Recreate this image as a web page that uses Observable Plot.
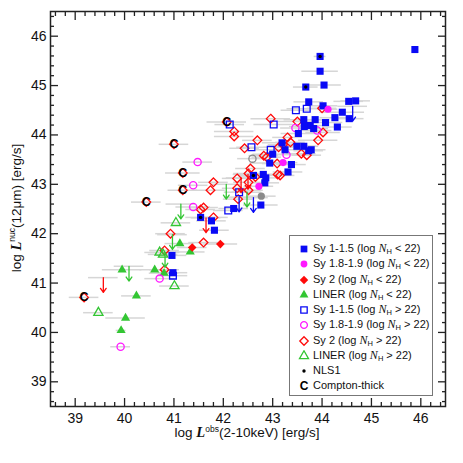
<!DOCTYPE html>
<html><head><meta charset="utf-8">
<script src="https://cdn.jsdelivr.net/npm/d3@7"></script>
<script src="https://cdn.jsdelivr.net/npm/@observablehq/plot@0.6"></script>
<style>
body{margin:0;background:#fff;font-family:"Liberation Sans",Arial,sans-serif;}
#wrap{position:relative;width:463px;height:463px;}
#legend{position:absolute;left:289px;top:235px;width:144px;height:161px;border:1px solid #777;background:#fff;box-sizing:border-box;font-size:11px;color:#111;}
.row{position:absolute;left:0;height:15px;line-height:15px;white-space:nowrap;}
.row svg{position:absolute;left:8px;top:2px;}
.row span.t{position:absolute;left:23px;top:0;}
.n{font-family:"Liberation Serif","Times New Roman",serif;font-style:italic;font-size:12px;}
sub{font-size:7.5px;vertical-align:-2px;}
</style></head>
<body><div id="wrap"></div>
<script>
// [log Lx, log L12, x error]
const sy1Low = [
 [45.88,45.73,0],[43.96,45.59,0.12],[43.96,45.29,0.37],[44.04,45.01,0.35],[43.67,44.97,0.25],
 [43.73,44.67,0.3],[44.02,44.59,0.3],[44.54,44.68,0.3],[44.68,44.69,0.3],[44.41,44.46,0.45],
 [44.26,44.35,0.3],[44.31,44.16,0.3],[44.07,44.25,0.35],[44.55,44.33,0.3],[43.63,44.31,0.4],
 [43.86,44.31,0.3],[43.76,44.19,0.3],[43.64,44.17,0.3],[43.52,44.03,0.35],[43.83,44.13,0.3],
 [43.19,43.84,0.4],[43.49,43.77,0.4],[43.63,43.77,0.3],[43.73,43.68,0.3],[43.78,43.70,0.3],
 [43.25,43.70,0.3],[43.00,43.61,0.4],[42.94,43.43,0.4],[43.38,43.40,0.3],[43.31,43.25,0.3],
 [42.81,43.20,0.3],[42.86,43.13,0.3],[42.84,43.03,0.3],[42.61,43.18,0.3],[42.76,42.58,0.35],
 [42.21,42.51,0.3],[41.76,42.26,0.3],[41.82,42.07,0.3],[41.54,42.33,0.3],[40.96,41.56,0.3],
 [40.98,41.21,0.3]
];
const sy1High = [
 [43.47,44.50,0.3],[43.69,44.53,0.4],[43.02,44.21,0.4],[42.13,44.21,0.3],[42.57,43.75,0.3],
 [42.96,43.70,0.3],[42.32,42.84,0.3],[42.10,42.47,0.3],[40.98,41.15,0.3]
];
const sy18Low = [[44.12,44.52,0.2],[43.21,43.44,0.3],[42.72,42.96,0.3]];
const sy18High = [
 [41.48,43.45,0.3],[41.39,42.98,0.3],[41.39,42.54,0.35],[40.71,41.09,0.3],[39.92,39.71,0.2],
 [43.46,44.14,0.3],[43.28,43.60,0.3],[43.90,44.09,0.3]
];
const sy2Low = [[41.37,41.72,0.3],[41.94,41.79,0.35]];
const sy2High = [
 [39.18,40.71,0.3],[40.44,42.64,0.3],[41.00,43.81,0.3],[41.18,43.23,0.35],[41.18,42.88,0.3],
 [42.07,44.26,0.4],[42.96,44.33,0.4],[42.22,44.07,0.4],[42.22,43.97,0.4],[42.43,43.73,0.3],
 [42.69,43.89,0.3],[43.50,44.27,0.4],[44.00,44.54,0.3],[44.02,44.05,0.35],[43.92,43.89,0.4],
 [43.30,43.95,0.3],[43.36,43.85,0.3],[43.12,43.75,0.3],[43.58,43.62,0.3],[43.69,43.59,0.3],
 [43.21,43.80,0.3],[43.09,43.42,0.3],[43.10,43.20,0.3],[42.88,43.55,0.3],[42.82,43.58,0.3],
 [42.55,43.32,0.3],[42.51,43.22,0.3],[42.28,43.12,0.3],[41.80,43.04,0.3],[41.74,42.88,0.3],
 [42.28,42.92,0.3],[42.51,42.88,0.3],[42.30,42.70,0.3],[41.60,42.53,0.3],[41.54,42.49,0.3],
 [41.80,42.33,0.3],[41.60,41.82,0.3],[40.93,42.00,0.3],[40.81,41.66,0.3],[40.81,41.27,0.3],
 [42.65,43.15,0.3],[42.51,43.04,0.3],[43.15,43.18,0.3]
];
const linerLow = [
 [41.12,41.80,0.3],[41.33,41.63,0.3],[40.61,41.27,0.3],[39.95,41.27,0.4],[40.24,40.74,0.3],
 [40.02,40.29,0.4],[39.93,40.04,0.1],[40.80,41.20,0.3]
];
const linerHigh = [[41.04,42.22,0.3],[40.71,41.62,0.3],[40.78,41.58,0.3],[41.01,40.94,0.3],[39.47,40.40,0.3]];
const otherOpen = [[42.59,43.52,0.3]];
const otherFilled = [[42.77,42.76,0.3]];
// upper limits: [log Lx, limit on log L12, x error]
const sy1Lim = [[44.62,44.58,0.3],[42.32,42.74,0.3],[42.61,42.73,0.3]];
const sy2Lim = [[39.57,41.11,0.3],[41.65,42.32,0.3],[42.36,43.13,0.3],[42.50,43.20,0.3]];
const linerLim = [[40.09,41.34,0.3],[40.97,41.98,0.3],[40.82,41.62,0.3],[41.14,42.60,0.3],[42.06,43.00,0.3],[42.48,42.84,0.3]];
const nls1 = [[43.96,45.59],[43.67,44.97],[42.61,43.18],[41.54,42.33]];
const comptonThick = [[39.18,40.71],[40.44,42.64],[41.00,43.81],[41.18,43.23],[41.18,42.88],[42.07,44.26]];
const xTicks = [39,40,41,42,43,44,45,46];
const yTicks = [39,40,41,42,43,44,45,46];
const minorTicks = d3.range(386, 466, 2).filter(v => v % 10 !== 0).map(v => v / 10);

const BLUE = "#0a0af5", MAG = "#ff1aff", RED = "#ff0a0a", GREEN = "#33c633", GRAY = "#8a8a8a";
const limLen = 0.3;

const allErr = [sy1Low, sy1High, sy18Low, sy18High, sy2Low, sy2High, linerLow, linerHigh, otherOpen, otherFilled, sy1Lim, sy2Lim, linerLim].flat().filter(d => d[2] > 0);

const X = d => d[0], Y = d => d[1];
function dots(data, symbol, r, fill, stroke, sw = 1.3) {
  return Plot.dot(data, {x: X, y: Y, symbol, r, fill, stroke, strokeWidth: sw});
}
function arrows(data, color) {
  return Plot.arrow(data, {x1: X, x2: X, y1: Y, y2: d => d[1] - limLen, stroke: color, strokeWidth: 1.3, headLength: 6, headAngle: 70});
}
const tickStyle = {stroke: "#222", strokeWidth: 1.3, tickFormat: () => ""};

const plot = Plot.plot({
  width: 463, height: 463,
  marginLeft: 50, marginRight: 18, marginTop: 11, marginBottom: 57,
  x: {domain: [38.5, 46.5], axis: null},
  y: {domain: [38.5, 46.5], axis: null},
  style: {fontFamily: "'Liberation Sans', Arial, sans-serif", background: "white"},
  marks: [
    Plot.ruleY(allErr, {y: Y, x1: d => d[0] - d[2], x2: d => d[0] + d[2], stroke: "#d6d6d6", strokeWidth: 1.5}),
    dots(sy2High, "diamond2", 3.9, "none", RED),
    dots(linerHigh, "triangle2", 4.4, "none", GREEN),
    dots(linerLow, "triangle", 3.4, GREEN, "none"),
    dots(sy18High, "circle", 3.6, "none", MAG),
    dots(sy1High, "square", 3.8, "none", BLUE),
    dots(sy1Low, "square", 4.0, BLUE, "none"),
    dots(sy18Low, "circle", 3.6, MAG, "none"),
    dots(sy2Low, "diamond2", 3.9, RED, "none"),
    dots(otherOpen, "circle", 3.6, "none", GRAY),
    dots(otherFilled, "circle", 3.6, GRAY, "none"),
    arrows(sy2Lim, RED),
    arrows(linerLim, GREEN),
    arrows(sy1Lim, BLUE),
    Plot.text(comptonThick, {x: X, y: Y, text: () => "C", fontWeight: "bold", fontSize: 12.5, fill: "black"}),
    Plot.dot(nls1, {x: X, y: Y, r: 1.7, fill: "black"}),
    Plot.frame({stroke: "#222", strokeWidth: 1.5}),
    Plot.axisX(xTicks, {anchor: "bottom", tickSize: 8, dy: -8, ...tickStyle}),
    Plot.axisX(xTicks, {anchor: "top", tickSize: 8, dy: 8, ...tickStyle}),
    Plot.axisX(minorTicks, {anchor: "bottom", tickSize: 4, dy: -4, ...tickStyle}),
    Plot.axisX(minorTicks, {anchor: "top", tickSize: 4, dy: 4, ...tickStyle}),
    Plot.axisY(yTicks, {anchor: "left", tickSize: 8, dx: 8, ...tickStyle}),
    Plot.axisY(yTicks, {anchor: "right", tickSize: 8, dx: -8, ...tickStyle}),
    Plot.axisY(minorTicks, {anchor: "left", tickSize: 4, dx: 4, ...tickStyle}),
    Plot.axisY(minorTicks, {anchor: "right", tickSize: 4, dx: -4, ...tickStyle}),
    Plot.axisX(xTicks, {anchor: "bottom", tickSize: 0, tickPadding: 7, fontSize: 14, label: null, fill: "#111"}),
    Plot.axisY(yTicks, {anchor: "left", tickSize: 0, tickPadding: 4, fontSize: 14, label: null, fill: "#111"})
  ]
});
document.getElementById("wrap").appendChild(plot);

// axis titles with rich text
const svg = d3.select(plot);
const serif = "'Liberation Serif','Times New Roman',serif";
function title(sel, sup, rest) {
  sel.append("tspan").text("log ");
  sel.append("tspan").attr("font-family", serif).attr("font-style", "italic").attr("font-weight", "bold").attr("font-size", 14.5).text("L");
  sel.append("tspan").attr("font-size", 8.5).attr("dy", -5.5).text(sup);
  sel.append("tspan").attr("dy", 5.5).text(rest);
}
const xt = svg.append("text").attr("x", 247).attr("y", 437).attr("text-anchor", "middle").attr("font-size", 13.5).attr("fill", "#111");
title(xt, "obs", "(2-10keV) [erg/s]");
const yt = svg.append("text").attr("transform", "translate(20.5,208) rotate(-90)").attr("text-anchor", "middle").attr("font-size", 13.5).attr("fill", "#111");
title(yt, "nuc", "(12\u03bcm) [erg/s]");

// legend
const legendItems = [
  {sym: d3.symbolSquare, r: 3.8, fill: BLUE, stroke: "none", label: "Sy 1-1.5", rel: "<"},
  {sym: d3.symbolCircle, r: 3.4, fill: MAG, stroke: "none", label: "Sy 1.8-1.9", rel: "<"},
  {sym: d3.symbolDiamond2, r: 3.8, fill: RED, stroke: "none", label: "Sy 2", rel: "<"},
  {sym: d3.symbolTriangle, r: 3.3, fill: GREEN, stroke: "none", label: "LINER", rel: "<"},
  {sym: d3.symbolSquare, r: 3.6, fill: "none", stroke: BLUE, label: "Sy 1-1.5", rel: ">"},
  {sym: d3.symbolCircle, r: 3.4, fill: "none", stroke: MAG, label: "Sy 1.8-1.9", rel: ">"},
  {sym: d3.symbolDiamond2, r: 3.8, fill: "none", stroke: RED, label: "Sy 2", rel: ">"},
  {sym: d3.symbolTriangle2, r: 4.3, fill: "none", stroke: GREEN, label: "LINER", rel: ">"},
  {sym: d3.symbolCircle, r: 1.7, fill: "black", stroke: "none", label: "NLS1"},
  {text: "C", label: "Compton-thick"}
];
const leg = document.createElement("div");
leg.id = "legend";
legendItems.forEach((it, i) => {
  const row = document.createElement("div");
  row.className = "row";
  row.style.top = (5 + i * 15.25) + "px";
  let s;
  if (it.text) {
    s = `<svg width="12" height="12"><text x="6" y="10" text-anchor="middle" font-weight="bold" font-size="12" font-family="Liberation Sans,Arial">C</text></svg>`;
  } else {
    const p = d3.symbol(it.sym, Math.PI * it.r * it.r)();
    s = `<svg width="12" height="12"><path transform="translate(6,6)" d="${p}" fill="${it.fill}" stroke="${it.stroke}" stroke-width="1.3"/></svg>`;
  }
  const txt = it.rel ? `${it.label} (log <span class="n">N</span><sub>H</sub> ${it.rel === "<" ? "&lt;" : "&gt;"} 22)` : it.label;
  row.innerHTML = s + `<span class="t">${txt}</span>`;
  leg.appendChild(row);
});
document.getElementById("wrap").appendChild(leg);
</script>
</body></html>
